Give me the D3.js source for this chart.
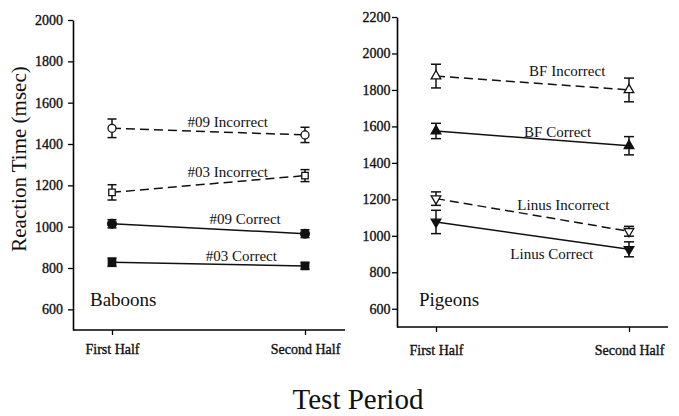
<!DOCTYPE html>
<html>
<head>
<meta charset="utf-8">
<script src="https://cdn.jsdelivr.net/npm/d3@7"></script>
<style>
  body { margin: 0; background: #fff; }
  text { font-family: "Liberation Serif", "Times New Roman", serif; fill: #111; }
</style>
</head>
<body>
<script>
var categories = ['First Half', 'Second Half'];

// baboons
var baboonTicks = [600, 800, 1000, 1200, 1400, 1600, 1800, 2000];
var b09Incorrect = [1476, 1444];
var b09IncorrectErr = [45, 37];
var b03Incorrect = [1166, 1247];
var b03IncorrectErr = [37, 29];
var b09Correct = [1014, 966];
var b09CorrectErr = [20, 19];
var b03Correct = [828, 810];
var b03CorrectErr = [20, 16];

// pigeons
var pigeonTicks = [600, 800, 1000, 1200, 1400, 1600, 1800, 2000, 2200];
var bfIncorrect = [1876, 1800];
var bfIncorrectErr = [65, 65];
var bfCorrect = [1575, 1494];
var bfCorrectErr = [42, 50];
var linusIncorrect = [1204, 1025];
var linusIncorrectErr = [37, 27];
var linusCorrect = [1076, 926];
var linusCorrectErr = [64, 41];

var svg = d3.select('body').append('svg')
  .attr('width', 679)
  .attr('height', 416);

function drawPanel(opt) {
  var g = svg.append('g');
  var x = d3.scalePoint().domain(categories).range([opt.x0, opt.x1]);
  var y = d3.scaleLinear().domain(opt.domain).range([opt.bottom, opt.top]);

  // y axis
  var ya = g.append('g')
    .attr('transform', 'translate(' + opt.left + ',0)')
    .call(d3.axisLeft(y).tickValues(opt.ticks).tickFormat(d3.format('d'))
      .tickSize(5).tickSizeOuter(0).tickPadding(opt.ypad));
  ya.select('.domain').attr('stroke-width', 1.6);
  ya.selectAll('.tick line').attr('stroke-width', 1.3);
  ya.selectAll('text').attr('font-size', 14).style('font-family', '"Liberation Serif", serif')
    .attr('fill', '#111').attr('stroke', '#111').attr('stroke-width', 0.35);

  // x axis
  var xa = g.append('g')
    .attr('transform', 'translate(0,' + opt.bottom + ')')
    .call(d3.axisBottom(x).tickSize(5).tickSizeOuter(0).tickPadding(opt.xpad));
  xa.select('.domain').remove();
  xa.append('line')
    .attr('x1', opt.left).attr('x2', opt.right)
    .attr('stroke', '#000').attr('stroke-width', 1.6);
  xa.selectAll('.tick line').attr('stroke-width', 1.3);
  xa.selectAll('text').attr('font-size', 14).style('font-family', '"Liberation Serif", serif')
    .attr('fill', '#111').attr('stroke', '#111').attr('stroke-width', 0.35);

  opt.series.forEach(function(s) {
    var pts = s.values.map(function(v, i) { return [x(categories[i]), y(v)]; });
    g.append('path')
      .attr('d', d3.line()(pts))
      .attr('fill', 'none')
      .attr('stroke', '#111')
      .attr('stroke-width', 1.5)
      .attr('stroke-dasharray', s.dashed ? '9,5' : null);

    s.values.forEach(function(v, i) {
      var cx = x(categories[i]);
      var e = s.err[i];
      var eg = g.append('g').attr('stroke', '#111').attr('stroke-width', 1.5);
      eg.append('line').attr('x1', cx).attr('x2', cx).attr('y1', y(v - e)).attr('y2', y(v + e));
      eg.append('line').attr('x1', cx - opt.cap).attr('x2', cx + opt.cap).attr('y1', y(v - e)).attr('y2', y(v - e));
      eg.append('line').attr('x1', cx - opt.cap).attr('x2', cx + opt.cap).attr('y1', y(v + e)).attr('y2', y(v + e));
    });

    g.selectAll(null)
      .data(s.values)
      .enter()
      .append('path')
      .attr('d', d3.symbol().type(s.symbol).size(s.size))
      .attr('transform', function(d, i) {
        return 'translate(' + x(categories[i]) + ',' + y(d) + ')' + (s.down ? ' rotate(180)' : '');
      })
      .attr('fill', s.filled ? '#111' : '#fff')
      .attr('stroke', '#111')
      .attr('stroke-width', 1.3);

    // label sits along the line at fraction t, shifted by dy pixels
    var t = s.label.t;
    var lx = x(categories[0]) + t * (x(categories[1]) - x(categories[0]));
    var lv = s.values[0] + t * (s.values[1] - s.values[0]);
    g.append('text')
      .attr('x', lx)
      .attr('y', y(lv) + s.label.dy)
      .attr('text-anchor', 'middle')
      .attr('font-size', 15)
      .text(s.label.text);
  });

  g.append('text')
    .attr('x', opt.nameX)
    .attr('y', opt.nameY)
    .attr('font-size', 19)
    .text(opt.name);
}

drawPanel({
  name: 'Baboons', nameX: 90, nameY: 306,
  left: 73, right: 345, x0: 112, x1: 305,
  top: 20, bottom: 330, domain: [500, 2000], ticks: baboonTicks,
  ypad: 5, xpad: 9, cap: 4.5,
  series: [
    { values: b09Incorrect, err: b09IncorrectErr, dashed: true, symbol: d3.symbolCircle, size: 50, filled: false,
      label: { text: '#09 Incorrect', t: 0.6, dy: -5 } },
    { values: b03Incorrect, err: b03IncorrectErr, dashed: true, symbol: d3.symbolSquare, size: 42, filled: false,
      label: { text: '#03 Incorrect', t: 0.6, dy: -5 } },
    { values: b09Correct, err: b09CorrectErr, dashed: false, symbol: d3.symbolCircle, size: 60, filled: true,
      label: { text: '#09 Correct', t: 0.69, dy: -6.5 } },
    { values: b03Correct, err: b03CorrectErr, dashed: false, symbol: d3.symbolSquare, size: 55, filled: true,
      label: { text: '#03 Correct', t: 0.67, dy: -4 } }
  ]
});

drawPanel({
  name: 'Pigeons', nameX: 419, nameY: 306,
  left: 397, right: 668, x0: 436, x1: 629,
  top: 17, bottom: 327, domain: [500, 2200], ticks: pigeonTicks,
  ypad: 1.5, xpad: 13, cap: 5,
  series: [
    { values: bfIncorrect, err: bfIncorrectErr, dashed: true, symbol: d3.symbolTriangle, size: 40, filled: false,
      label: { text: 'BF Incorrect', t: 0.68, dy: -10 } },
    { values: bfCorrect, err: bfCorrectErr, dashed: false, symbol: d3.symbolTriangle, size: 40, filled: true,
      label: { text: 'BF Correct', t: 0.63, dy: -3 } },
    { values: linusIncorrect, err: linusIncorrectErr, dashed: true, symbol: d3.symbolTriangle, size: 40, filled: false, down: true,
      label: { text: 'Linus Incorrect', t: 0.66, dy: -10 } },
    { values: linusCorrect, err: linusCorrectErr, dashed: false, symbol: d3.symbolTriangle, size: 40, filled: true, down: true,
      label: { text: 'Linus Correct', t: 0.6, dy: 20.5 } }
  ]
});

svg.append('text')
  .attr('transform', 'translate(26,159) rotate(-90)')
  .attr('text-anchor', 'middle')
  .attr('font-size', 21)
  .text('Reaction Time (msec)');

svg.append('text')
  .attr('x', 358)
  .attr('y', 409)
  .attr('text-anchor', 'middle')
  .attr('font-size', 29)
  .text('Test Period');
</script>
</body>
</html>
